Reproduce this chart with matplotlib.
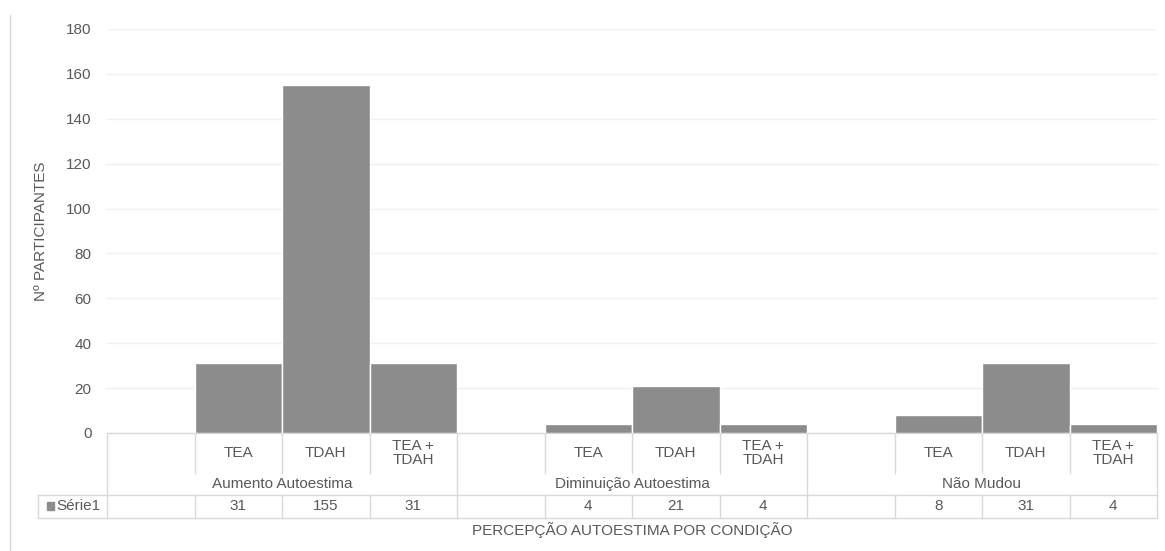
import matplotlib.pyplot as plt
from matplotlib.lines import Line2D
from matplotlib.patches import Rectangle

plt.rcParams["font.family"] = ["Liberation Sans", "DejaVu Sans"]

GROUPS = ["Aumento Autoestima", "Diminuição Autoestima", "Não Mudou"]
CONDITIONS = ["TEA", "TDAH", "TEA +\nTDAH"]
AUMENTO = [31, 155, 31]
DIMINUICAO = [4, 21, 4]
NAO_MUDOU = [8, 31, 4]
SERIES_NAME = "Série1"
Y_TICKS = [0, 20, 40, 60, 80, 100, 120, 140, 160, 180]

TEXT = "#595959"
LINE = "#d9d9d9"
BAR = "#8c8c8c"
FS = 11

fig = plt.figure(figsize=(11.65, 5.51), dpi=100)
ax = fig.add_axes([107 / 1165, 118 / 551, 1050 / 1165, 404 / 551])

# each group: one blank slot then the three conditions
values = [AUMENTO, DIMINUICAO, NAO_MUDOU]
n_slots = 4 * len(GROUPS)
xs, ys = [], []
for g, vals in enumerate(values):
    for j, v in enumerate(vals):
        xs.append(4 * g + 1 + j)
        ys.append(v)

ax.bar(xs, ys, width=1.0, color=BAR, edgecolor="white", linewidth=1.0, zorder=3)

ax.set_xlim(-0.5, n_slots - 0.5)
ax.set_ylim(0, 180)
ax.set_yticks(Y_TICKS)
ax.tick_params(axis="y", length=0, pad=11, labelsize=FS, labelcolor=TEXT)
ax.set_xticks([])
ax.grid(axis="y", color="#f0f0f0", linewidth=1.0, zorder=0)
for s in ax.spines.values():
    s.set_visible(False)

tr = ax.get_xaxis_transform()
row1 = -40 / 404
row2 = -62 / 404
row3 = -85 / 404
head_left = -0.5 - (107 - 38) / 87.5


def vline(x, y0, y1):
    ax.add_line(Line2D([x, x], [y0, y1], transform=tr, color=LINE, lw=1.0, clip_on=False))


def hline(x0, x1, y):
    ax.add_line(Line2D([x0, x1], [y, y], transform=tr, color=LINE, lw=1.0, clip_on=False))


hline(-0.5, n_slots - 0.5, 0)
hline(head_left, n_slots - 0.5, row2)
hline(head_left, n_slots - 0.5, row3)
vline(head_left, row2, row3)

for g in range(len(GROUPS)):
    vline(4 * g - 0.5, 0, row3)
    for k in range(3):
        vline(4 * g + 0.5 + k, 0, row1)
        vline(4 * g + 0.5 + k, row2, row3)
    ax.text(4 * g + 1.5, (row1 + row2) / 2, GROUPS[g], transform=tr, ha="center",
            va="center", fontsize=FS, color=TEXT)
vline(n_slots - 0.5, 0, row3)

for x, y, j in zip(xs, ys, [0, 1, 2] * 3):
    ax.text(x, row1 / 2, CONDITIONS[j], transform=tr, ha="center", va="center",
            fontsize=FS, color=TEXT, linespacing=0.95)
    ax.text(x, (row2 + row3) / 2, str(y), transform=tr, ha="center", va="center",
            fontsize=FS, color=TEXT)

# legend key in table header
ax.add_patch(Rectangle((head_left + 0.1, (row2 + row3) / 2 - 0.009), 0.08, 0.02,
                       transform=tr, color=BAR, clip_on=False))
ax.text(head_left + 0.21, (row2 + row3) / 2, SERIES_NAME, transform=tr, ha="left",
        va="center", fontsize=FS, color=TEXT)

ax.text(0.5, -(530 - 433) / 404, "PERCEPÇÃO AUTOESTIMA POR CONDIÇÃO", transform=ax.transAxes,
        ha="center", va="center", fontsize=FS, color=TEXT)
ax.text(-(107 - 41) / 1050, 0.5, "Nº PARTICIPANTES", transform=ax.transAxes, rotation=90,
        ha="center", va="center", fontsize=FS, color=TEXT)

fig.add_artist(Line2D([10 / 1165, 10 / 1165], [0, 536 / 551], transform=fig.transFigure,
                      color=LINE, lw=1.0))

fig.savefig("out.png", dpi=100, facecolor="white")
